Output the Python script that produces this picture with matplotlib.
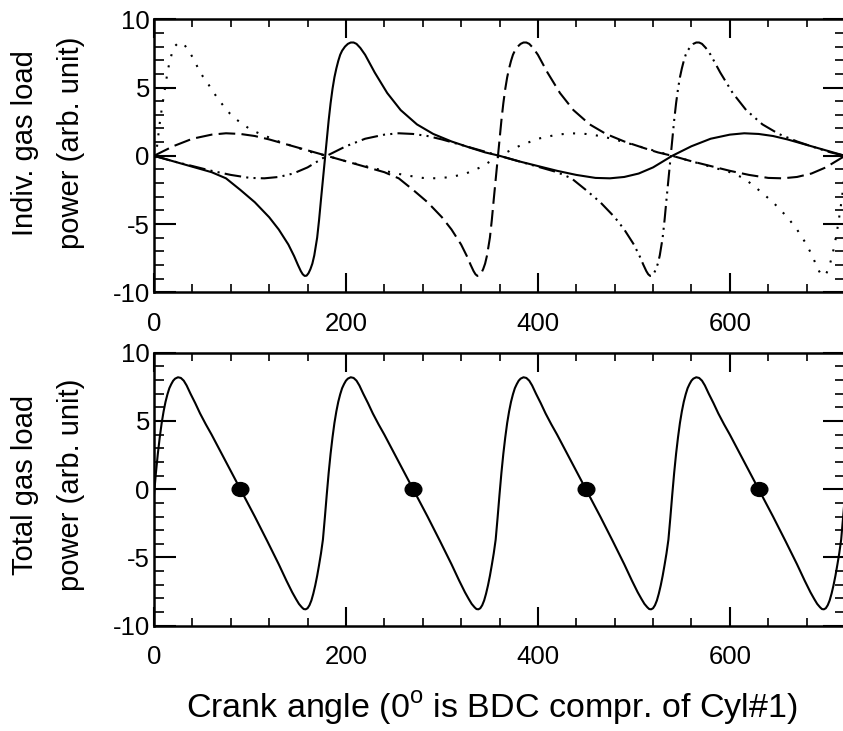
import matplotlib
matplotlib.use("Agg")
import matplotlib.pyplot as plt
from matplotlib.markers import MarkerStyle
from matplotlib.ticker import MultipleLocator
from matplotlib.transforms import Affine2D

plt.rcParams["font.family"] = ["Liberation Sans", "DejaVu Sans"]
plt.rcParams["mathtext.fontset"] = "custom"
plt.rcParams["mathtext.rm"] = "Liberation Sans"
plt.rcParams["axes.unicode_minus"] = False

# ── data (crank angle in deg, power in arb. unit) ──
# Cyl #1, solid line
CYL1_DEG = [0, 20, 40, 60, 75, 90, 105, 120, 130, 140,
            146, 150, 153, 155, 157, 159, 161, 163, 165, 167,
            170, 172, 174, 176, 178, 180, 182, 184, 186, 188,
            190, 192, 194, 196, 199, 202, 205, 208, 211, 215,
            220, 230, 243, 257, 274, 291, 310, 330, 345, 360,
            380, 400, 420, 440, 460, 475, 490, 505, 520, 540,
            560, 580, 600, 615, 630, 645, 660, 680, 700, 720]
CYL1_VAL = [0.0, -0.4, -0.8, -1.2, -1.65, -2.5, -3.4, -4.5, -5.4, -6.5,
            -7.35, -8.0, -8.45, -8.68, -8.8, -8.78, -8.6, -8.3, -7.9, -7.3,
            -6.0, -4.7, -3.2, -1.75, -0.3, 1.15, 2.6, 3.85, 4.9, 5.75,
            6.4, 6.95, 7.4, 7.7, 8.0, 8.2, 8.3, 8.3, 8.2, 7.9,
            7.4, 6.1, 4.6, 3.35, 2.3, 1.6, 1.05, 0.58, 0.25, 0.0,
            -0.4, -0.75, -1.1, -1.4, -1.62, -1.65, -1.55, -1.3, -0.85, 0.0,
            0.7, 1.25, 1.55, 1.65, 1.6, 1.45, 1.2, 0.8, 0.4, 0.0]

# Cyl #2, dashed line
CYL2_DEG = [0, 20, 40, 60, 75, 90, 105, 120, 140, 160,
            180, 200, 220, 240, 255, 270, 285, 300, 310, 320,
            326, 330, 333, 335, 337, 339, 341, 343, 345, 347,
            350, 352, 354, 356, 358, 360, 362, 364, 366, 368,
            370, 372, 374, 376, 379, 382, 385, 388, 391, 395,
            400, 410, 423, 437, 454, 471, 490, 510, 525, 540,
            560, 580, 600, 620, 640, 655, 670, 685, 700, 720]
CYL2_VAL = [0.0, 0.7, 1.25, 1.55, 1.65, 1.6, 1.45, 1.2, 0.8, 0.4,
            0.0, -0.4, -0.8, -1.2, -1.65, -2.5, -3.4, -4.5, -5.4, -6.5,
            -7.35, -8.0, -8.45, -8.68, -8.8, -8.78, -8.6, -8.3, -7.9, -7.3,
            -6.0, -4.7, -3.2, -1.75, -0.3, 1.15, 2.6, 3.85, 4.9, 5.75,
            6.4, 6.95, 7.4, 7.7, 8.0, 8.2, 8.3, 8.3, 8.2, 7.9,
            7.4, 6.1, 4.6, 3.35, 2.3, 1.6, 1.05, 0.58, 0.25, 0.0,
            -0.4, -0.75, -1.1, -1.4, -1.62, -1.65, -1.55, -1.3, -0.85, 0.0]

# Cyl #3, dash-dot-dot line
CYL3_DEG = [0, 20, 40, 60, 80, 100, 115, 130, 145, 160,
            180, 200, 220, 240, 255, 270, 285, 300, 320, 340,
            360, 380, 400, 420, 435, 450, 465, 480, 490, 500,
            506, 510, 513, 515, 517, 519, 521, 523, 525, 527,
            530, 532, 534, 536, 538, 540, 542, 544, 546, 548,
            550, 552, 554, 556, 559, 562, 565, 568, 571, 575,
            580, 590, 603, 617, 634, 651, 670, 690, 705, 720]
CYL3_VAL = [0.0, -0.4, -0.75, -1.1, -1.4, -1.62, -1.65, -1.55, -1.3, -0.85,
            0.0, 0.7, 1.25, 1.55, 1.65, 1.6, 1.45, 1.2, 0.8, 0.4,
            0.0, -0.4, -0.8, -1.2, -1.65, -2.5, -3.4, -4.5, -5.4, -6.5,
            -7.35, -8.0, -8.45, -8.68, -8.8, -8.78, -8.6, -8.3, -7.9, -7.3,
            -6.0, -4.7, -3.2, -1.75, -0.3, 1.15, 2.6, 3.85, 4.9, 5.75,
            6.4, 6.95, 7.4, 7.7, 8.0, 8.2, 8.3, 8.3, 8.2, 7.9,
            7.4, 6.1, 4.6, 3.35, 2.3, 1.6, 1.05, 0.58, 0.25, 0.0]

# Cyl #4, dotted line
CYL4_DEG = [0, 3, 6, 8, 10, 12, 14, 16, 19, 22,
            25, 28, 32, 37, 42, 46, 51, 57, 62, 67,
            73, 79, 86, 94, 101, 111, 130, 150, 165, 180,
            200, 220, 240, 260, 280, 295, 310, 325, 340, 360,
            380, 400, 420, 435, 450, 465, 480, 500, 520, 540,
            560, 580, 600, 615, 630, 645, 660, 670, 680, 686,
            690, 693, 695, 697, 699, 701, 703, 705, 707, 709,
            711, 713, 715, 717, 720]
CYL4_VAL = [-1.0, 0.6, 2.4, 3.4, 4.3, 5.2, 6.1, 6.8, 7.6, 8.05,
            8.25, 8.3, 8.1, 7.6, 7.0, 6.4, 5.8, 5.2, 4.65, 4.15,
            3.6, 3.1, 2.65, 2.25, 1.9, 1.6, 1.05, 0.58, 0.25, 0.0,
            -0.4, -0.75, -1.1, -1.4, -1.62, -1.65, -1.55, -1.3, -0.85, 0.0,
            0.7, 1.25, 1.55, 1.65, 1.6, 1.45, 1.2, 0.8, 0.4, 0.0,
            -0.4, -0.8, -1.2, -1.65, -2.5, -3.4, -4.5, -5.4, -6.5, -7.35,
            -8.0, -8.45, -8.68, -8.8, -8.75, -8.55, -8.2, -7.75, -7.2, -6.55,
            -5.8, -4.95, -4.0, -3.0, -1.0]

# total gas load power
TOTAL_DEG = [0, 2, 4, 6, 8, 10, 12, 14, 16, 18, 20, 22, 25, 28, 31, 34, 38, 43,
             48, 54, 60, 75, 90, 105, 118, 130, 138, 144, 148, 151, 154, 156, 158,
             160, 162, 164, 166, 168, 170, 172, 174, 176, 178,
             180, 182, 184, 186, 188, 190, 192, 194, 196, 198, 200, 202, 205, 208,
             211, 214, 218, 223, 228, 234, 240, 255, 270, 285, 298, 310, 318, 324,
             328, 331, 334, 336, 338, 340, 342, 344, 346, 348, 350, 352, 354, 356,
             358,
             360, 362, 364, 366, 368, 370, 372, 374, 376, 378, 380, 382, 385, 388,
             391, 394, 398, 403, 408, 414, 420, 435, 450, 465, 478, 490, 498, 504,
             508, 511, 514, 516, 518, 520, 522, 524, 526, 528, 530, 532, 534, 536,
             538,
             540, 542, 544, 546, 548, 550, 552, 554, 556, 558, 560, 562, 565, 568,
             571, 574, 578, 583, 588, 594, 600, 615, 630, 645, 658, 670, 678, 684,
             688, 691, 694, 696, 698, 700, 702, 704, 706, 708, 710, 712, 714, 716,
             718, 720]
TOTAL_VAL = [-0.4, 1.2, 2.6, 3.8, 4.85, 5.7, 6.4, 6.95, 7.4, 7.7, 7.95, 8.1, 8.2,
             8.15, 7.95, 7.6, 7.0, 6.3, 5.55, 4.75, 4.0, 2.0, 0.0, -2.0, -3.8, -5.5,
             -6.7, -7.55, -8.05, -8.4, -8.65, -8.78, -8.8, -8.72, -8.5, -8.15,
             -7.65, -7.05, -6.35, -5.55, -4.7, -3.7, -2.1,
             -0.4, 1.2, 2.6, 3.8, 4.85, 5.7, 6.4, 6.95, 7.4, 7.7, 7.95, 8.1, 8.2,
             8.15, 7.95, 7.6, 7.0, 6.3, 5.55, 4.75, 4.0, 2.0, 0.0, -2.0, -3.8, -5.5,
             -6.7, -7.55, -8.05, -8.4, -8.65, -8.78, -8.8, -8.72, -8.5, -8.15,
             -7.65, -7.05, -6.35, -5.55, -4.7, -3.7, -2.1,
             -0.4, 1.2, 2.6, 3.8, 4.85, 5.7, 6.4, 6.95, 7.4, 7.7, 7.95, 8.1, 8.2,
             8.15, 7.95, 7.6, 7.0, 6.3, 5.55, 4.75, 4.0, 2.0, 0.0, -2.0, -3.8, -5.5,
             -6.7, -7.55, -8.05, -8.4, -8.65, -8.78, -8.8, -8.72, -8.5, -8.15,
             -7.65, -7.05, -6.35, -5.55, -4.7, -3.7, -2.1,
             -0.4, 1.2, 2.6, 3.8, 4.85, 5.7, 6.4, 6.95, 7.4, 7.7, 7.95, 8.1, 8.2,
             8.15, 7.95, 7.6, 7.0, 6.3, 5.55, 4.75, 4.0, 2.0, 0.0, -2.0, -3.8, -5.5,
             -6.7, -7.55, -8.05, -8.4, -8.65, -8.78, -8.8, -8.72, -8.5, -8.15,
             -7.65, -7.05, -6.35, -5.55, -4.7, -3.7, -2.1,
             -0.4]

# marked points on the total curve
MARK_DEG = [90, 270, 450, 630]
MARK_VAL = [0.0, 0.0, 0.0, 0.0]

TOP_YLABEL = "Indiv. gas load\npower (arb. unit)"
BOT_YLABEL = "Total gas load\npower (arb. unit)"
XLABEL = r"Crank angle (0$^\mathrm{o}$ is BDC compr. of Cyl#1)"

W, H = 843, 731
fig = plt.figure(figsize=(W / 100, H / 100), dpi=100)

left, right = 154, 845
ax1 = fig.add_axes([left / W, 1 - 292.3 / H, (right - left) / W, 273 / H])
ax2 = fig.add_axes([left / W, 1 - 625.7 / H, (right - left) / W, 273 / H])

lw = 1.5
ax1.plot(CYL1_DEG, CYL1_VAL, color="black", lw=lw, solid_joinstyle="round")
ax1.plot(CYL2_DEG, CYL2_VAL, color="black", lw=lw, dashes=(8, 3))
ax1.plot(CYL3_DEG, CYL3_VAL, color="black", lw=lw, dashes=(8, 2.5, 1, 2.5, 1, 2.5))
ax1.plot(CYL4_DEG, CYL4_VAL, color="black", lw=lw, dashes=(1, 4.5))

ax2.plot(TOTAL_DEG, TOTAL_VAL, color="black", lw=lw, solid_joinstyle="round")
dot = MarkerStyle("o", transform=Affine2D().scale(1.2, 1.0))
ax2.plot(MARK_DEG, MARK_VAL, ls="none", marker=dot, ms=10, color="black", zorder=3)

for ax in (ax1, ax2):
    ax.set_xlim(0, 720)
    ax.set_ylim(-10, 10)
    ax.xaxis.set_major_locator(MultipleLocator(200))
    ax.xaxis.set_minor_locator(MultipleLocator(40))
    ax.yaxis.set_major_locator(MultipleLocator(5))
    ax.yaxis.set_minor_locator(MultipleLocator(1))
    ax.tick_params(which="both", direction="in", top=True, right=True,
                   labelsize=18.5, colors="black")
    ax.tick_params(axis="x", which="major", length=14, width=1.5, pad=14)
    ax.tick_params(axis="x", which="minor", length=5.5, width=1.2)
    ax.tick_params(axis="y", which="major", length=16, width=1.5, pad=3)
    ax.tick_params(axis="y", which="minor", length=7.5, width=1.2)
    for sp in ax.spines.values():
        sp.set_linewidth(1.8)

fig.text(48 / W, 1 - 143 / H, TOP_YLABEL, rotation=90, ha="center", va="center",
         multialignment="center", fontsize=21, linespacing=1.85)
fig.text(48 / W, 1 - 485 / H, BOT_YLABEL, rotation=90, ha="center", va="center",
         multialignment="center", fontsize=21, linespacing=1.85)
fig.text(492 / W, 1 - 718 / H, XLABEL, ha="center", va="baseline", fontsize=24.5)

fig.savefig("out.png", dpi=100)
